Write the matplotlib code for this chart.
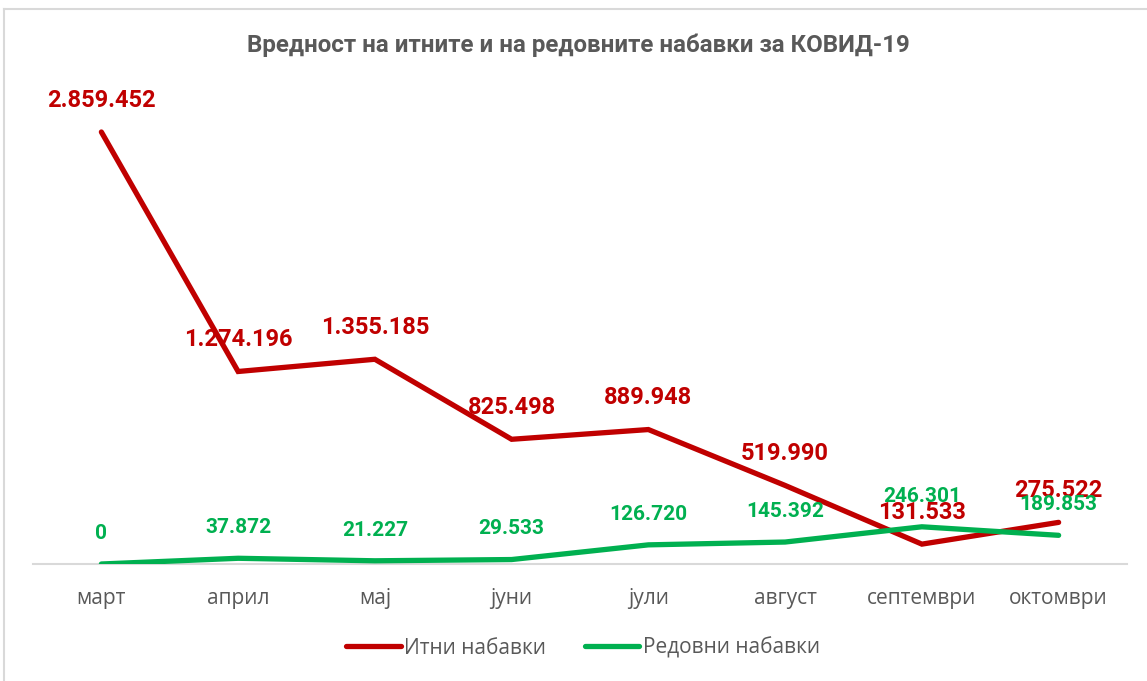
import numpy as np
import matplotlib.pyplot as plt
from matplotlib.lines import Line2D

months = ['март', 'април', 'мај', 'јуни', 'јули', 'август', 'септември', 'октомври']
itni = [2859452, 1274196, 1355185, 825498, 889948, 519990, 131533, 275522]
redovni = [0, 37872, 21227, 29533, 126720, 145392, 246301, 189853]
series_names = ['Итни набавки', 'Редовни набавки']

red = '#C00000'
green = '#00B050'
grey = '#595959'
fam = ['Roboto', 'DejaVu Sans']
tickfam = ['Open Sans', 'DejaVu Sans']


def fmt(v):
    return '{:,}'.format(v).replace(',', '.')


W, H = 1147, 681
fig = plt.figure(figsize=(W / 100, H / 100), dpi=100)

# axes: x from 33 to 1127 px, y=0 at 564 px, 3e6 at 111 px
ymax = 3000000
y0_px, ytop_px = 564, 564 - 432 * ymax / 2859452
ax = fig.add_axes([33 / W, (H - y0_px) / H, (1127 - 33) / W, (y0_px - ytop_px) / H])
x = np.arange(len(months))
ax.set_xlim(-0.5, len(months) - 0.5)
ax.set_ylim(0, ymax)

ax.plot(x, itni, color=red, lw=3.8, solid_capstyle='round', solid_joinstyle='miter', zorder=3)
ax.plot(x, redovni, color=green, lw=3.8, solid_capstyle='round', solid_joinstyle='miter', zorder=3)

for xi, v in zip(x, itni):
    ax.annotate(fmt(v), (xi, v), xytext=(0, 23), textcoords='offset points',
                ha='center', va='center', color=red, fontsize=17,
                fontweight='bold', family=fam, zorder=4)
for xi, v in zip(x, redovni):
    ax.annotate(fmt(v), (xi, v), xytext=(0, 22), textcoords='offset points',
                ha='center', va='center', color=green, fontsize=15,
                fontweight='bold', family=fam, zorder=5)

for s in ['top', 'right', 'left']:
    ax.spines[s].set_visible(False)
ax.spines['bottom'].set_color('#D9D9D9')
ax.spines['bottom'].set_linewidth(1.5)
ax.set_yticks([])
ax.set_xticks(x)
ax.set_xticklabels(months, color=grey, fontsize=15, family=tickfam)
ax.tick_params(axis='x', length=0, pad=17)

fig.text(578 / W, 1 - 45 / H, 'Вредност на итните и на редовните набавки за КОВИД-19',
         ha='center', va='center', color=grey, fontsize=17.4, fontweight='bold', family=fam)

handles = [Line2D([], [], color=red, lw=3.8, solid_capstyle='round'),
           Line2D([], [], color=green, lw=3.8, solid_capstyle='round')]
fig.legend(handles, series_names, loc='center', bbox_to_anchor=(583 / W, 1 - 648 / H),
           ncol=2, frameon=False, handlelength=2.6, handletextpad=0.15, columnspacing=1.9,
           prop={'family': tickfam, 'size': 15}, labelcolor=grey)

# chart border (only left and top visible)
fig.add_artist(Line2D([4 / W, 4 / W], [0, 1 - 8.5 / H], color='#D9D9D9', lw=1.5))
fig.add_artist(Line2D([4 / W, 1], [1 - 8.5 / H, 1 - 8.5 / H], color='#D9D9D9', lw=1.5))

fig.savefig('out.png', dpi=100, facecolor='white')
